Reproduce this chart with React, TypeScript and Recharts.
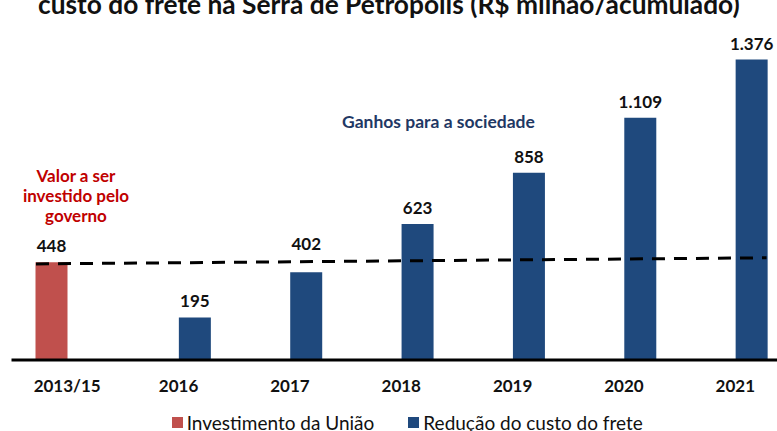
import React from "react";
import {
  Bar,
  BarChart,
  LabelList,
  Legend,
  ReferenceLine,
  XAxis,
  YAxis,
} from "recharts";

const categories = ["2013/15", "2016", "2017", "2018", "2019", "2020", "2021"];
const investimentoUniao = [448, null, null, null, null, null, null];
const reducaoFrete = [null, 195, 402, 623, 858, 1109, 1376];
// dashed reference: start / end in (category slot, R$ milhão)
const trendStart = [0.22, 440];
const trendEnd = [6.78, 468];

const data = categories.map((name, i) => ({
  name,
  slot: i + 0.5,
  investimento: investimentoUniao[i],
  reducao: reducaoFrete[i],
}));

const FONT = "Lato, 'Open Sans', sans-serif";
const RED = "#C0504D";
const BLUE = "#1F497D";

const fmt = (v: any) =>
  v == null ? "" : String(v).replace(/\B(?=(\d{3})+(?!\d))/g, ".");

const trendAt = (slot: number) =>
  trendStart[1] +
  ((trendEnd[1] - trendStart[1]) * (slot - trendStart[0])) /
    (trendEnd[0] - trendStart[0]);

// value label above the bar; pushed over the dashed line when it would sit on it
function ValueLabel(props: any) {
  const { x, y, width, height, value, index } = props;
  if (value == null || value === "") return null;
  const perUnit = height / value;
  const lineY = y + height - trendAt(index + 0.5) * perUnit;
  let base = y - 10;
  if (Math.abs(base - 6 - lineY) < 14) base = lineY - 13;
  return (
    <text
      x={x + width / 2}
      y={base}
      textAnchor="middle"
      fill="#111"
      fontSize={17}
      fontWeight={700}
      fontFamily={FONT}
    >
      {fmt(value)}
    </text>
  );
}

function LegendContent(props: any) {
  const items = props.payload || [];
  return (
    <div
      style={{
        display: "flex",
        justifyContent: "center",
        alignItems: "center",
        gap: 34,
        height: 31,
        boxSizing: "border-box",
        paddingTop: 14,
        paddingLeft: 12,
        fontFamily: FONT,
        fontSize: 19,
        lineHeight: "17px",
        color: "#111",
      }}
    >
      {items.map((it: any) => (
        <div key={it.value} style={{ display: "flex", alignItems: "center" }}>
          <span
            style={{
              display: "inline-block",
              width: 11,
              height: 11,
              background: it.color,
              marginRight: 4,
            }}
          />
          {it.value}
        </div>
      ))}
    </div>
  );
}

export default function App() {
  return (
    <div
      style={{
        position: "fixed",
        left: 0,
        top: 0,
        width: 777,
        height: 431,
        overflow: "hidden",
        background: "#fff",
      }}
    >
      <div
        style={{
          position: "absolute",
          left: 38,
          top: -12,
          fontFamily: FONT,
          fontWeight: 700,
          fontSize: 26.3,
          color: "#111",
          whiteSpace: "nowrap",
          zIndex: 2,
        }}
      >
        custo do frete na Serra de Petrópolis (R$ milhão/acumulado)
      </div>
      <div
        style={{
          position: "absolute",
          left: 342,
          top: 111,
          fontFamily: FONT,
          fontWeight: 700,
          fontSize: 17.5,
          color: "#1F3864",
          whiteSpace: "nowrap",
          zIndex: 2,
        }}
      >
        Ganhos para a sociedade
      </div>
      <div
        style={{
          position: "absolute",
          left: 14,
          top: 166,
          width: 124,
          textAlign: "center",
          fontFamily: FONT,
          fontWeight: 700,
          fontSize: 17,
          lineHeight: "20px",
          color: "#C00000",
          zIndex: 2,
        }}
      >
        Valor a ser
        <br />
        investido pelo
        <br />
        governo
      </div>
      <BarChart
        width={791}
        height={431}
        data={data}
        barGap={0}
        barSize={32}
        margin={{ top: 10.6, right: 0, left: 11.5, bottom: 0 }}
      >
        <XAxis
          dataKey="name"
          tickLine={false}
          axisLine={{ stroke: "#000", strokeWidth: 3 }}
          tick={{ fill: "#111", fontSize: 17, fontWeight: 700, fontFamily: FONT }}
          tickMargin={14}
          height={40}
        />
        <XAxis
          xAxisId="trend"
          dataKey="slot"
          type="number"
          domain={[0, 7]}
          allowDataOverflow
          hide
        />
        <YAxis
          width={0}
          domain={[0, 1600]}
          tick={false}
          tickLine={false}
          axisLine={{ stroke: "#000", strokeWidth: 3 }}
        />
        <Legend
          verticalAlign="bottom"
          wrapperStyle={{ height: 31 }}
          content={<LegendContent />}
        />
        <Bar
          dataKey="investimento"
          name="Investimento da União"
          fill={RED}
          isAnimationActive={false}
        >
          <LabelList dataKey="investimento" content={<ValueLabel />} />
        </Bar>
        <Bar
          dataKey="reducao"
          name="Redução do custo do frete"
          fill={BLUE}
          isAnimationActive={false}
        >
          <LabelList dataKey="reducao" content={<ValueLabel />} />
        </Bar>
        <ReferenceLine
          xAxisId="trend"
          ifOverflow="visible"
          segment={[
            { x: trendStart[0], y: trendStart[1] },
            { x: trendEnd[0], y: trendEnd[1] },
          ]}
          stroke="#000"
          strokeWidth={3}
          strokeDasharray="13 9"
        />
      </BarChart>
    </div>
  );
}
